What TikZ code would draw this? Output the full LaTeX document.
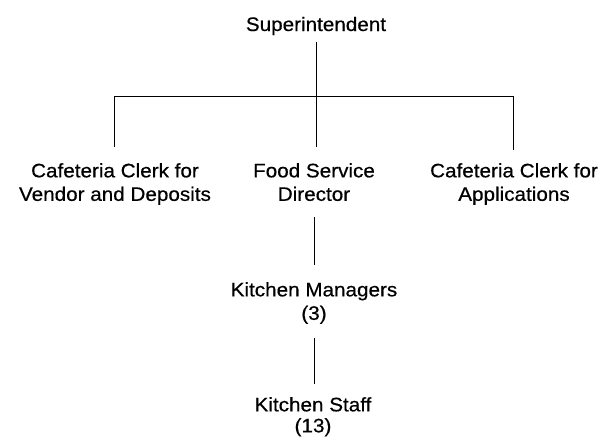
\documentclass[tikz,border=0pt]{standalone}
\usepackage{fontspec}
\setmainfont[FakeStretch=1.06,FakeBold=0.5]{Liberation Sans}
\begin{document}
\begin{tikzpicture}[x=1pt,y=-1pt,
  lbl/.style={inner sep=0pt, align=center, text=black,
    font=\fontsize{19.5}{23.5}\selectfont},
  conn/.style={draw=black, line width=0.9pt}]
\useasboundingbox (0,0) rectangle (610,442);
\fill[white] (0,0) rectangle (610,442);

\node[lbl, anchor=base] (sup) at (316,31) {Superintendent};
\node[lbl, anchor=north] (clerkL) at (115,163) {Cafeteria Clerk for\\Vendor and Deposits};
\node[lbl, anchor=north] (fsd) at (314,163) {Food Service\\Director};
\node[lbl, anchor=north] (clerkR) at (514,163) {Cafeteria Clerk for\\Applications};
\node[lbl, anchor=north] (km) at (314,282) {Kitchen Managers\\(3)};
\node[lbl, anchor=north, font=\fontsize{19.5}{21}\selectfont] (ks) at (313,397) {Kitchen Staff\\(13)};

\coordinate (busL) at (114,96);
\coordinate (busM) at (316,96);
\coordinate (busR) at (513,96);

\draw[conn, shorten <=6.5pt] (sup.south) -- (busM);
\draw[conn] (busL) -- (busR);
\draw[conn, shorten >=16pt] (busL) -- (busL |- clerkL.north);
\draw[conn, shorten >=16pt] (busM) -- (busM |- fsd.north);
\draw[conn, shorten >=13pt] (busR) -- (busR |- clerkR.north);
\draw[conn, shorten <=16pt, shorten >=17pt] (fsd.south) -- (fsd.south |- km.north);
\draw[conn, shorten <=13.5pt, shorten >=13pt] (km.south) -- (km.south |- ks.north);
\end{tikzpicture}
\end{document}
